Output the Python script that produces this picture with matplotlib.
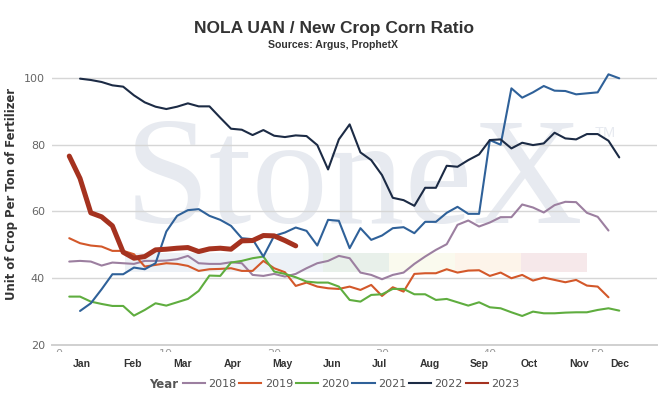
import numpy as np
import matplotlib.pyplot as plt
from matplotlib.lines import Line2D
from matplotlib.patches import Rectangle
from matplotlib.transforms import blended_transform_factory

# datos (semana del año -> ratio) ----------------------------------------

years = ["2018", "2019", "2020", "2021", "2022", "2023"]

v2018 = [45.0, 45.2, 45.0, 43.8, 44.7, 44.5, 44.3, 45.2, 45.2, 45.3,
         45.7, 46.7, 44.5, 44.3, 44.3, 44.8, 44.5, 41.0, 40.7, 41.3,
         40.5, 41.3, 43.0, 44.5, 45.2, 46.7, 46.0, 41.7, 41.0, 39.7,
         41.0, 41.7, 44.3, 46.5, 48.5, 50.2, 56.0, 57.3, 55.5, 56.7,
         58.3, 58.3, 62.1, 61.2, 59.7, 61.9, 62.9, 62.8, 59.6, 58.4,
         54.3]
v2019 = [52.0, 50.5, 49.8, 49.5, 48.2, 48.2, 47.2, 43.5, 44.0, 44.5,
         44.3, 43.7, 42.2, 42.7, 42.8, 43.0, 42.2, 42.2, 45.2, 43.0,
         41.8, 37.7, 38.7, 37.5, 37.0, 36.8, 37.5, 36.5, 38.0, 34.7,
         37.3, 36.0, 41.3, 41.5, 41.5, 42.7, 41.7, 42.3, 42.4, 40.7,
         41.7, 40.0, 41.0, 39.3, 40.2, 39.5, 38.8, 39.5, 37.8, 37.5,
         34.3]
v2020 = [34.5, 34.5, 33.0, 32.3, 31.7, 31.7, 28.8, 30.5, 32.5, 31.8,
         32.8, 33.8, 36.2, 40.8, 40.7, 44.7, 45.2, 46.0, 46.5, 42.0,
         41.3, 40.3, 39.0, 38.7, 38.7, 37.5, 33.5, 33.0, 35.0, 35.2,
         36.8, 36.8, 35.2, 35.2, 33.5, 33.8, 32.8, 31.8, 32.8, 31.3,
         31.0, 29.8, 28.7, 30.0, 29.5, 29.5, 29.7, 29.8, 29.8, 30.5,
         31.0, 30.3]
v2021 = [30.2, 32.5, 36.7, 41.2, 41.2, 43.2, 42.7, 44.5, 54.0, 58.7,
         60.4, 60.7, 58.7, 57.5, 55.7, 52.0, 51.7, 46.5, 52.7, 53.7,
         55.2, 54.2, 49.8, 57.5, 57.2, 49.0, 55.0, 51.5, 52.8, 55.0,
         55.3, 53.5, 56.9, 56.9, 59.6, 61.4, 59.3, 59.3, 81.4, 80.0,
         96.9, 94.1, 95.7, 97.6, 96.2, 96.1, 95.1, 95.4, 95.7, 101.1,
         99.9]
v2022 = [99.8, 99.4, 98.8, 97.8, 97.4, 94.8, 92.7, 91.4, 90.7, 91.4,
         92.4, 91.5, 91.5, 88.1, 84.8, 84.5, 82.9, 84.4, 82.7, 82.3,
         82.8, 82.6, 79.9, 72.6, 81.6, 86.1, 77.7, 75.4, 70.9, 64.1,
         63.4, 61.7, 67.1, 67.1, 73.7, 73.4, 75.4, 77.1, 81.4, 81.6,
         78.9, 80.6, 79.9, 80.4, 83.6, 81.9, 81.6, 83.2, 83.2, 81.2,
         76.2]
v2023 = [76.6, 69.9, 59.6, 58.4, 55.7, 47.8, 46.0, 46.5, 48.5, 48.7,
         49.0, 49.2, 48.0, 48.8, 49.0, 48.7, 51.2, 51.3, 52.8, 52.7,
         51.3, 49.7]

first_week = [1, 1, 1, 2, 2, 1]
series = [v2018, v2019, v2020, v2021, v2022, v2023]

months = ["Jan", "Feb", "Mar", "Apr", "May", "Jun",
          "Jul", "Aug", "Sep", "Oct", "Nov", "Dec"]
month_pos = [2.2, 6.9, 11.5, 16.2, 20.8, 25.4, 29.8, 34.4, 39.0, 43.7, 48.3, 52.0]
week_ticks = [0, 10, 20, 30, 40, 50]

colores = ["#9c7fa0", "#d3582a", "#5fad3f", "#2f6199", "#1c2b45", "#a5321f"]
grosores = [1.5, 1.5, 1.5, 1.5, 1.5, 3.6]

# figura -----------------------------------------------------------------

W, H = 667, 404
fig = plt.figure(figsize=(W / 100, H / 100), dpi=100)
fig.patch.set_facecolor("white")

def fx(px):
    return px / W

def fy(py):
    return 1 - py / H

ax = fig.add_axes([fx(52), fy(345), fx(657) - fx(52), fy(61.3) - fy(345)])
ax.set_facecolor("none")

# marca de agua StoneX
fig.text(fx(354), fy(223), "StoneX", ha="center", va="baseline",
         fontsize=110, family="Liberation Serif", color="#e7eaf0", zorder=-2)
fig.text(fx(605), fy(133), "TM", ha="center", va="center",
         fontsize=10.5, family="Liberation Sans", color="#e7eaf0", zorder=-2)
bandas = [(125, 323, "#edf1f6"), (323, 389, "#e8f0ea"), (389, 455, "#fafaee"),
          (455, 521, "#fdf4ea"), (521, 587, "#f6e8ea")]
for x0, x1, c in bandas:
    fig.patches.append(Rectangle((fx(x0), fy(272)), fx(x1) - fx(x0), fy(253) - fy(272),
                                 transform=fig.transFigure, facecolor=c,
                                 edgecolor="none", zorder=-3))

for vals, w0, c, lw in zip(series, first_week, colores, grosores):
    semanas = np.arange(w0, w0 + len(vals))
    ax.plot(semanas, vals, color=c, lw=lw, solid_joinstyle="round",
            solid_capstyle="round", zorder=3)

ax.set_xlim(-0.6, 55.5)
ax.set_ylim(20, 105)
ax.set_yticks([20, 40, 60, 80, 100])
ax.grid(axis="y", color="#d6d6d6", lw=1.0)
ax.set_axisbelow(True)
for s in ["top", "right", "left"]:
    ax.spines[s].set_visible(False)
ax.spines["bottom"].set_color("#d0d0d0")
ax.spines["bottom"].set_linewidth(1.4)
ax.tick_params(axis="y", length=0, pad=5, labelsize=8, labelcolor="#666666")

# etiquetas de semana, casi ocultas bajo el eje
ax.set_xticks(week_ticks)
ax.tick_params(axis="x", length=0, pad=3, labelsize=8, labelcolor="#999999")
fig.patches.append(Rectangle((0, 0), 1, fy(352), transform=fig.transFigure,
                             facecolor="white", edgecolor="none", zorder=1))

# meses
mt = blended_transform_factory(ax.transData, fig.transFigure)
for m, p in zip(months, month_pos):
    fig.text(p, fy(364), m, transform=mt, ha="center", va="center", fontsize=7.5,
             fontweight="bold", family="Liberation Sans", color="#333333", zorder=5)

fig.text(0.5, fy(28), "NOLA UAN / New Crop Corn Ratio", ha="center", va="center",
         fontsize=12.5, fontweight="bold", family="Liberation Sans", color="#333333")
fig.text(0.5, fy(45), "Sources: Argus, ProphetX", ha="center", va="center",
         fontsize=7.6, fontweight="bold", family="Liberation Sans", color="#333333")
fig.text(fx(12), fy(194), "Unit of Crop Per Ton of Fertilizer", rotation=90,
         ha="center", va="center", fontsize=8.4, fontweight="bold", color="#333333")

# leyenda
fig.text(fx(164), fy(384), "Year", ha="center", va="center", fontsize=8.5,
         fontweight="bold", color="#555555", zorder=5)
handles = [Line2D([], [], color=c, lw=1.5) for c in colores]
leg = fig.legend(handles, years, loc="center", bbox_to_anchor=(fx(351), fy(384)),
                 ncol=6, frameon=False, fontsize=8, handlelength=2.0,
                 handletextpad=0.3, columnspacing=0.25, borderpad=0)
leg.set_zorder(5)
for t in leg.get_texts():
    t.set_color("#555555")

fig.savefig("out.png", dpi=100, facecolor="white")
